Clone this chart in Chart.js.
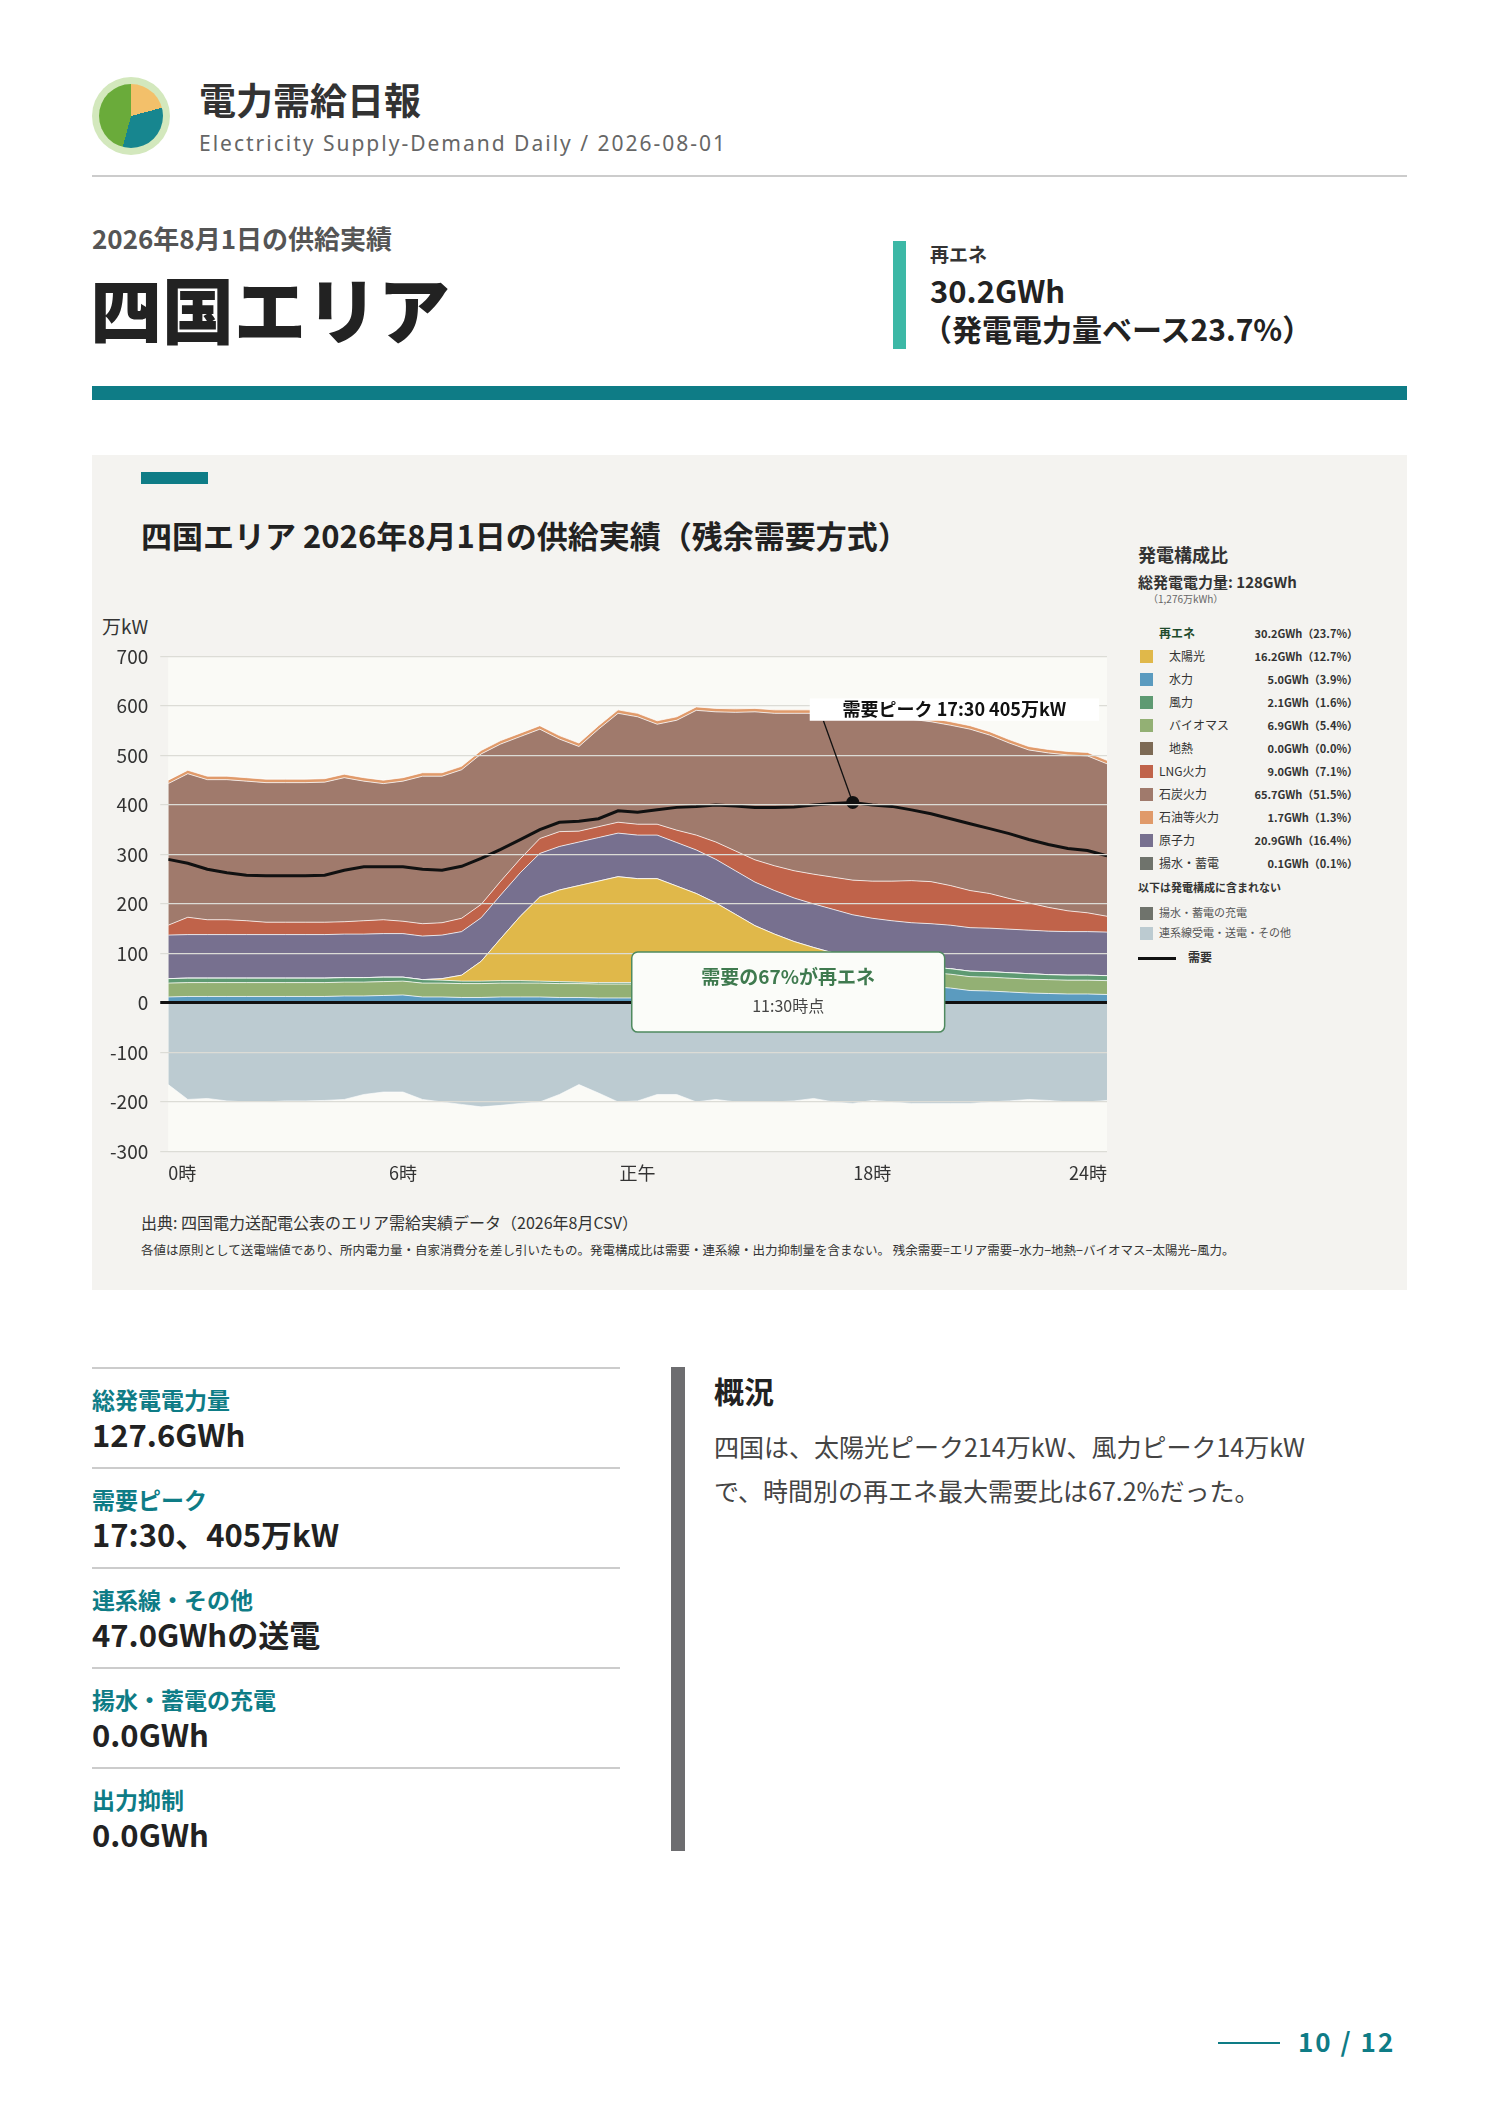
<!DOCTYPE html>
<html><head><meta charset="utf-8">
<script src="https://cdn.jsdelivr.net/npm/chart.js@4"></script>
<style>
body{margin:0;width:1488px;height:2105px;background:#fff;font-family:"Noto Sans CJK JP","Noto Sans",sans-serif;color:#222;position:relative;overflow:hidden}
.a{position:absolute;white-space:nowrap}
.logo{left:92px;top:77px;width:78px;height:78px;border-radius:50%;background:#d3e8bd}
.pie{position:absolute;left:7px;top:7px;width:64px;height:64px;border-radius:50%;background:conic-gradient(#f3c06a 0 75deg,#17868f 75deg 195deg,#6aab3a 195deg 360deg)}
.lg{font-size:12px;color:#333}
.lg .row{position:absolute;left:0;width:220px;height:20px}
.lg .sw{position:absolute;left:2px;top:3px;width:13px;height:13px}
.lg .nm{position:absolute;top:0}
.lg .v{position:absolute;right:0;top:1px;font-size:11px;font-weight:700}
.st .lab{font-size:23px;line-height:28px;font-weight:700;color:#0e7c86}
.st .val{font-size:31px;line-height:36px;font-weight:700;color:#222}
</style></head><body>
<div class="a logo"><div class="pie"></div></div>
<div class="a" style="left:199px;top:72px;font-size:37px;font-weight:700;color:#333">電力需給日報</div>
<div class="a" style="left:199px;top:129px;font-size:21px;letter-spacing:2px;color:#666;font-family:'Noto Sans',sans-serif">Electricity Supply-Demand Daily / 2026-08-01</div>
<div class="a" style="left:92px;top:175px;width:1315px;height:2px;background:#ccc"></div>
<div class="a" style="left:92px;top:219px;font-size:26px;font-weight:700;color:#555">2026年8月1日の供給実績</div>
<div class="a" style="left:90px;top:254px;font-size:72px;font-weight:900;color:#222">四国エリア</div>
<div class="a" style="left:893px;top:241px;width:13px;height:108px;background:#3cb8a6"></div>
<div class="a" style="left:930px;top:240px;font-size:19px;font-weight:700;color:#333">再エネ</div>
<div class="a" style="left:930px;top:267px;font-size:31px;font-weight:700;color:#222">30.2GWh</div>
<div class="a" style="left:922px;top:306px;font-size:30px;font-weight:700;color:#222">（発電電力量ベース23.7%）</div>
<div class="a" style="left:92px;top:386px;width:1315px;height:14px;background:#0e7c86"></div>

<div class="a" style="left:92px;top:455px;width:1315px;height:835px;background:#f4f3f0"></div>
<div class="a" style="left:141px;top:472px;width:67px;height:12px;background:#0e7c86"></div>
<div class="a" style="left:141px;top:512px;font-size:31px;font-weight:700;color:#222">四国エリア 2026年8月1日の供給実績（残余需要方式）</div>
<div class="a" style="left:102px;top:612px;font-size:19px;color:#333">万kW</div>
<div class="a" style="left:98px;top:633px;width:1012px;height:554px"><canvas id="c"></canvas></div>
<div class="a" style="left:141px;top:1210px;font-size:16px;color:#333">出典: 四国電力送配電公表のエリア需給実績データ（2026年8月CSV）</div>
<div class="a" style="left:141px;top:1240px;font-size:12.5px;color:#333">各値は原則として送電端値であり、所内電力量・自家消費分を差し引いたもの。発電構成比は需要・連系線・出力抑制量を含まない。 残余需要=エリア需要−水力−地熱−バイオマス−太陽光−風力。</div>

<div class="a lg" id="lg" style="left:1138px;top:541px;width:220px;height:440px"></div>

<div class="a st" id="st" style="left:92px;top:1367px;width:528px"></div>
<div class="a" style="left:671px;top:1367px;width:14px;height:484px;background:#6d6d70"></div>
<div class="a" style="left:714px;top:1368px;font-size:30px;font-weight:700;color:#222">概況</div>
<div class="a" style="left:714px;top:1424px;font-size:25px;color:#444;line-height:44px">四国は、太陽光ピーク214万kW、風力ピーク14万kW<br>で、時間別の再エネ最大需要比は67.2%だった。</div>
<div class="a" style="left:1218px;top:2042px;width:62px;height:2px;background:#0e7c86"></div>
<div class="a" style="left:1298px;top:2022px;font-size:26px;font-weight:700;color:#0e7c86;letter-spacing:2px">10 / 12</div>

<script>
const hours=[...Array(49).keys()].map(i=>i/2);
const hydro=[12,13,13,13,13,13,13,13,13,14, 14,15,16,12,12,11,11,12,12,12, 11,11,10,10,10,10,10,10,10,11, 12,14,16,20,25,30,35,36,35,33, 30,25,24,22,20,19,18,18,17];
const biomass=[28,28,28,28,28,28,28,28,28,28, 28,28,28,28,28,28,28,28,28,28, 28,28,28,28,28,28,28,28,28,28, 28,28,28,28,28,28,28,28,28,28, 28,28,28,28,28,28,28,28,28];
const wind=[9,9,9,9,9,9,9,9,9,9, 9,9,8,7,6,5,5,5,5,4, 4,3,3,3,3,3,3,3,4,5, 6,7,8,9,10,10,11,11,11,11, 11,11,11,11,11,10,10,10,10];
const solar=[0,0,0,0,0,0,0,0,0,0, 0,0,0,0,3,12,40,85,130,170, 185,195,205,214,210,210,195,180,160,135, 110,90,72,55,38,22,9,3,0,0, 0,0,0,0,0,0,0,0,0];
const geo=Array(49).fill(0);
const nuclear=[88,88,88,88,88,88,88,88,88,88, 88,88,88,88,88,88,88,88,88,88, 88,88,88,88,88,88,88,88,88,88, 88,88,88,88,88,88,88,88,88,88, 88,88,88,88,88,88,88,88,88];
const lng=[20,35,30,30,28,25,25,25,25,25, 27,28,25,25,25,27,27,28,28,30, 30,22,22,22,22,22,25,30,35,40, 45,50,55,60,65,70,75,80,85,85, 80,75,70,62,55,48,42,38,32];
const coal=[286,290,283,283,282,282,282,282,283,291, 282,275,283,298,296,300,304,277,247,221, 187,171,197,220,217,202,222,252,263,280, 299,308,318,325,329,335,335,332,326,323, 324,326,320,314,309,312,315,317,308];
const oil=[7,7,7,7,7,7,7,7,7,7, 7,7,7,7,7,7,7,7,7,7, 7,7,7,7,7,7,7,7,7,7, 7,7,7,7,7,7,7,7,7,7, 7,7,7,7,7,7,7,7,7];
const pumped=[0,0,0,0,0,0,0,0,0,0, 0,0,0,0,0,0,0,0,0,0, 0,0,0,0,0,0,0,0,0,0, 0,0,0,0,1,1,1,1,1,0, 0,0,0,0,0,0,0,0,0];
const interconnect=[-165,-195,-193,-198,-200,-200,-198,-198,-197,-195, -185,-180,-180,-195,-200,-205,-210,-207,-203,-200, -185,-165,-182,-200,-198,-185,-185,-200,-195,-200, -200,-200,-198,-193,-200,-203,-197,-200,-203,-203, -203,-203,-200,-198,-195,-197,-200,-200,-197];
const demand=[290,282,270,263,258,257,257,257,258,268, 275,275,275,270,268,276,292,310,330,350, 365,367,372,388,385,390,395,397,400,398, 395,395,396,400,403,405,400,397,390,382, 372,362,352,342,330,320,312,308,297];
const xTicks={0:'0時',6:'6時',12:'正午',18:'18時',24:'24時'};

const legendRows=[
 ['再エネ',null,'30.2GWh（23.7%）','re'],
 ['太陽光','#e0b84a','16.2GWh（12.7%）','sub'],
 ['水力','#5b9bbf','5.0GWh（3.9%）','sub'],
 ['風力','#5e9a72','2.1GWh（1.6%）','sub'],
 ['バイオマス','#93b074','6.9GWh（5.4%）','sub'],
 ['地熱','#7d6a55','0.0GWh（0.0%）','sub'],
 ['LNG火力','#c0634a','9.0GWh（7.1%）',''],
 ['石炭火力','#a07a6c','65.7GWh（51.5%）',''],
 ['石油等火力','#e09a6a','1.7GWh（1.3%）',''],
 ['原子力','#77708f','20.9GWh（16.4%）',''],
 ['揚水・蓄電','#6f736c','0.1GWh（0.1%）','']
];
let h='<div style="position:absolute;top:0;font-size:18px;font-weight:700;color:#333">発電構成比</div>'+
 '<div style="position:absolute;top:30px;font-size:15px;font-weight:700;color:#333">総発電電力量: 128GWh</div>'+
 '<div style="position:absolute;left:10px;top:50px;font-size:10px;color:#666">（1,276万kWh）</div>';
legendRows.forEach((r,i)=>{
  const y=83+i*23;
  h+=`<div class="row" style="top:${y}px">${r[1]?`<div class="sw" style="background:${r[1]}"></div>`:''}<div class="nm" style="left:${r[3]==='sub'?31:21}px;${r[3]==='re'?'font-weight:700;color:#1e4a2c':''}">${r[0]}</div><div class="v">${r[2]}</div></div>`;
});
h+='<div style="position:absolute;top:338px;font-size:11px;font-weight:700;color:#333">以下は発電構成に含まれない</div>';
h+='<div class="row" style="top:363px"><div class="sw" style="background:#6f736c"></div><div class="nm" style="left:21px;font-size:11px;color:#555">揚水・蓄電の充電</div></div>';
h+='<div class="row" style="top:383px"><div class="sw" style="background:#bccbd1"></div><div class="nm" style="left:21px;font-size:11px;color:#555">連系線受電・送電・その他</div></div>';
h+='<div style="position:absolute;left:0;top:416px;width:38px;height:3px;background:#111"></div><div style="position:absolute;left:50px;top:407px;font-size:12px;font-weight:700">需要</div>';
document.getElementById('lg').innerHTML=h;

const stats=[['総発電電力量','127.6GWh'],['需要ピーク','17:30、405万kW'],['連系線・その他','47.0GWhの送電'],['揚水・蓄電の充電','0.0GWh'],['出力抑制','0.0GWh']];
document.getElementById('st').innerHTML=stats.map((s,i)=>`<div style="position:absolute;top:${i*100}px;left:0;width:528px;height:100px;border-top:2px solid #ccc"><div class="lab" style="position:absolute;top:16px">${s[0]}</div><div class="val" style="position:absolute;top:47px">${s[1]}</div></div>`).join('');

const gen=[['水力',hydro,'#5b9bbf'],['バイオマス',biomass,'#93b074'],['風力',wind,'#5e9a72'],['太陽光',solar,'#e0b84a'],['地熱',geo,'#7d6a55'],['原子力',nuclear,'#77708f'],['LNG火力',lng,'#c0634a'],['石炭火力',coal,'#a07a6c'],['石油等火力',oil,'#e09a6a'],['揚水・蓄電',pumped,'#6f736c']];
const pts=a=>a.map((v,i)=>({x:hours[i],y:v}));
const datasets=[{label:'需要',data:pts(demand),borderColor:'#111',borderWidth:3,fill:false,stack:'d',pointRadius:demand.map((v,i)=>i===35?5:0),pointBackgroundColor:'#111',tension:0}];
gen.forEach((g,i)=>datasets.push({label:g[0],data:pts(g[1]),backgroundColor:g[2],borderColor:'rgba(255,255,255,0.75)',borderWidth:1,fill:i===0?'origin':i,stack:'gen',pointRadius:0}));
datasets.push({label:'連系線',data:pts(interconnect),backgroundColor:'#bccbd1',borderColor:'rgba(255,255,255,0.6)',borderWidth:1,fill:'origin',stack:'neg',pointRadius:0});

const deco={id:'deco',
 beforeDraw(c){const a=c.chartArea,x=c.ctx;x.save();x.fillStyle='#fafaf6';x.fillRect(a.left,a.top,a.width,a.height);x.restore();},
 afterDraw(c){
  const x=c.ctx,sx=c.scales.x,sy=c.scales.y;x.save();
  const px=sx.getPixelForValue(17.5),py=sy.getPixelForValue(405);
  const bx=sx.getPixelForValue(16.4),by=sy.getPixelForValue(615),bw=sx.getPixelForValue(23.8)-bx,bh=sy.getPixelForValue(570)-by;
  x.strokeStyle='#111';x.lineWidth=1.3;x.beginPath();x.moveTo(sx.getPixelForValue(16.75),by+bh);x.lineTo(px,py);x.stroke();
  x.fillStyle='#fff';x.fillRect(bx,by,bw,bh);
  x.fillStyle='#111';x.font='700 18px "Noto Sans CJK JP"';x.textAlign='center';x.textBaseline='middle';
  x.fillText('需要ピーク 17:30 405万kW',bx+bw/2,by+bh/2);
  const cx=sx.getPixelForValue(11.85),cy=sy.getPixelForValue(103),cw=sx.getPixelForValue(19.85)-cx,ch=sy.getPixelForValue(-59)-cy;
  x.fillStyle='#fbfcf9';x.strokeStyle='#4f8a5f';x.lineWidth=1.5;
  x.beginPath();x.roundRect(cx,cy,cw,ch,6);x.fill();x.stroke();
  x.fillStyle='#3f7a4f';x.font='700 19px "Noto Sans CJK JP"';x.fillText('需要の67%が再エネ',cx+cw/2,sy.getPixelForValue(52));
  x.fillStyle='#444';x.font='16px "Noto Sans CJK JP"';x.fillText('11:30時点',cx+cw/2,sy.getPixelForValue(-6));
  x.restore();
 }};

new Chart(document.getElementById('c'),{type:'line',data:{datasets},plugins:[deco],
 options:{responsive:true,maintainAspectRatio:false,animation:false,
  layout:{padding:{top:0,right:2}},
  plugins:{legend:{display:false},tooltip:{enabled:false}},
  elements:{line:{tension:0}},
  scales:{
   x:{type:'linear',min:0,max:24,grid:{display:false},border:{display:false},
      ticks:{stepSize:6,align:'inner',color:'#333',font:{size:18,family:'Noto Sans CJK JP'},callback:v=>xTicks[v]??''}},
   y:{stacked:true,min:-300,max:700,border:{display:false},
      grid:{color:c=>c.tick.value===0?'#111':'#dcdcd6',lineWidth:c=>c.tick.value===0?3:1.2,z:1},
      ticks:{stepSize:100,color:'#333',padding:12,font:{size:19,family:'Noto Sans CJK JP'}}}
  }}});
</script>
</body></html>
